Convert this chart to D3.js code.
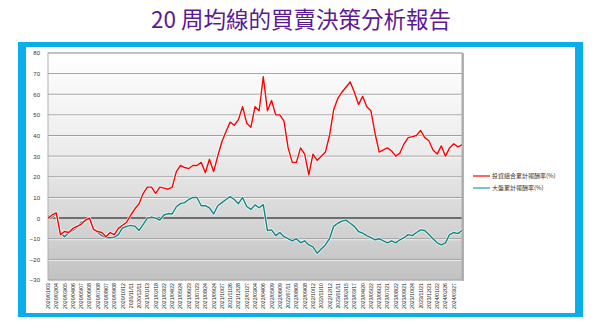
<!DOCTYPE html>
<html><head><meta charset="utf-8">
<script src="https://cdn.jsdelivr.net/npm/d3@7/dist/d3.min.js"></script>
<style>body{margin:0;background:#fff;}svg{display:block;}</style>
</head><body>
<svg id="c" width="600" height="329"></svg>
<script>
const title = "20 周均線的買賣決策分析報告";
const seriesNames = ["投資組合累計報酬率(%)", "大盤累計報酬率(%)"];
const yTicks = [80,70,60,50,40,30,20,10,0,-10,-20,-30];
const dateLabels = ["2020/01/03","2020/02/04","2020/03/05","2020/04/06","2020/05/07","2020/06/08","2020/07/08","2020/08/07","2020/09/08","2020/10/12",
"2020/11/11","2020/12/11","2021/01/13","2021/02/18","2021/03/22","2021/04/22","2021/05/24","2021/06/23","2021/07/23","2021/08/24",
"2021/09/24","2021/10/27","2021/11/26","2021/12/28","2022/01/27","2022/03/04","2022/04/06","2022/05/09","2022/06/09","2022/07/11",
"2022/08/09","2022/09/08","2022/10/12","2022/11/10","2022/12/12","2023/01/11","2023/02/15","2023/03/17","2023/04/20","2023/05/22",
"2023/06/21","2023/07/21","2023/08/22","2023/09/21","2023/10/24","2023/11/21","2023/12/21","2024/01/22","2024/02/26","2024/03/27"];
const portfolio = [0,1.5,2.5,-8,-6.5,-7,-5,-4,-3,-1,
0,-5.5,-6.5,-7,-9,-7,-8,-5,-3.5,-2,
1.5,4.5,7,12,15,15,12,15,14.5,14,
15,22.5,25.5,24.5,24,25.5,25.5,27,22,28.5,
22.5,30,37,42,46.5,45,47.7,54,46,44,
54,52,68.5,52,57,50,50,47,34,27,
27,34,31,21,31,28,30,32,40,52.5,
58,61,63.5,66,61,55,59,54,52,41,
32,33,34,32.5,30,31.5,36,39,39.5,40,
42.5,39,37.5,33,31,35,30,34,36,34.5,35.5];
const market = [1,0.5,2,-7,-9,-7,-6,-4.5,-2,-1.5,
0,-5,-7,-8.5,-9.5,-9.5,-9.2,-8,-4.8,-4,
-3.5,-4,-6,-3,0,0.5,0,-1,1.5,2.2,
2,5.5,7,7.5,9,10,10,6,6,5,
2,6,7.5,9,10.4,9,7,10,5.6,4.2,
6.4,5,6.5,-6,-5.7,-8.5,-7,-9,-10,-11,
-10,-12,-11,-13,-14,-17,-15,-13,-10,-4,
-2.5,-1.5,-1,-2.5,-4,-6.5,-7.3,-8.5,-9.5,-10.5,
-10,-11,-12,-11,-12,-10.5,-9.5,-8,-8.5,-7,
-5.7,-6,-8,-10,-12,-13,-12,-8,-7,-7.5,-6];

const svg = d3.select("#c");
const defs = svg.append("defs");
const g1 = defs.append("linearGradient").attr("id","bg").attr("x1",0).attr("y1",0).attr("x2",0).attr("y2",1);
g1.append("stop").attr("offset","0%").attr("stop-color","#ffffff");
g1.append("stop").attr("offset","45%").attr("stop-color","#ebebeb");
g1.append("stop").attr("offset","100%").attr("stop-color","#c2c2c2");

svg.append("text").attr("x",301).attr("y",28).attr("text-anchor","middle")
  .attr("font-family","'Noto Sans CJK TC','Noto Sans',sans-serif").attr("font-size",22.5)
  .attr("fill","#5b1a94").text(title);

svg.append("rect").attr("x",18).attr("y",42).attr("width",565).attr("height",275).attr("fill","#0aaeea");
svg.append("rect").attr("x",26).attr("y",47).attr("width",549).attr("height",266).attr("fill","#ffffff");

const m = {l:48, r:462, t:53, b:280};
const x = d3.scaleLinear().domain([0, portfolio.length-1]).range([m.l, m.r]);
const y = d3.scaleLinear().domain([-30,80]).range([m.b, m.t]);

svg.append("rect").attr("x",m.l).attr("y",m.t).attr("width",m.r-m.l).attr("height",m.b-m.t).attr("fill","url(#bg)");

const grid = svg.append("g");
yTicks.forEach(t=>{
  if (t===0) return;
  grid.append("line").attr("x1",m.l).attr("x2",m.r).attr("y1",y(t)).attr("y2",y(t)).attr("stroke","#9c9c9c").attr("stroke-width",1);
  grid.append("line").attr("x1",m.l).attr("x2",m.r).attr("y1",y(t)+1).attr("y2",y(t)+1).attr("stroke","#ffffff").attr("stroke-opacity",0.7).attr("stroke-width",1);
});
grid.append("line").attr("x1",m.l).attr("x2",m.r).attr("y1",y(0)).attr("y2",y(0)).attr("stroke","#6e6e6e").attr("stroke-width",2);

svg.append("rect").attr("x",m.l).attr("y",m.t).attr("width",m.r-m.l).attr("height",m.b-m.t).attr("fill","none").attr("stroke","#b0b0b0").attr("stroke-width",1);
svg.append("line").attr("x1",m.r+1).attr("x2",m.r+1).attr("y1",m.t).attr("y2",m.b+1).attr("stroke","#9a9a9a").attr("stroke-width",1.5);

const yAxis = d3.axisLeft(y).tickValues(yTicks).tickSize(0).tickPadding(8).tickFormat(d3.format("d"));
const ya = svg.append("g").attr("transform",`translate(${m.l},0)`).call(yAxis);
ya.select(".domain").remove();
ya.selectAll("text").attr("font-family","'Liberation Sans',Arial,sans-serif").attr("font-size",6).attr("fill","#333");

const xa = svg.append("g");
dateLabels.forEach((d,i)=>{
  const xi = x(i*2);
  xa.append("text").attr("transform",`translate(${xi+2},${m.b+3}) rotate(-90)`)
    .attr("text-anchor","end").attr("font-family","'Liberation Sans',Arial,sans-serif")
    .attr("font-size",5.2).attr("fill","#222").text(d);
});

const line = d3.line().x((d,i)=>x(i)).y(d=>y(d));
[[market,"#0f8585"],[portfolio,"#ff0000"]].forEach(([data,col])=>{
  svg.append("path").datum(data).attr("d",line).attr("fill","none").attr("stroke","#ffffff").attr("stroke-opacity",0.7).attr("stroke-width",3).attr("stroke-linejoin","round");
  svg.append("path").datum(data).attr("d",line).attr("fill","none").attr("stroke",col).attr("stroke-width",1.4).attr("stroke-linejoin","round");
});

const lg = svg.append("g");
[["#ff0000",seriesNames[0],176],["#22a0a0",seriesNames[1],188]].forEach(([c,t,yy])=>{
  lg.append("line").attr("x1",473).attr("x2",490).attr("y1",yy).attr("y2",yy).attr("stroke",c).attr("stroke-width",1.2);
  lg.append("text").attr("x",492).attr("y",yy+2).attr("font-family","'Noto Sans CJK TC',sans-serif").attr("font-size",6).attr("fill","#333").text(t);
});
</script>
</body></html>
